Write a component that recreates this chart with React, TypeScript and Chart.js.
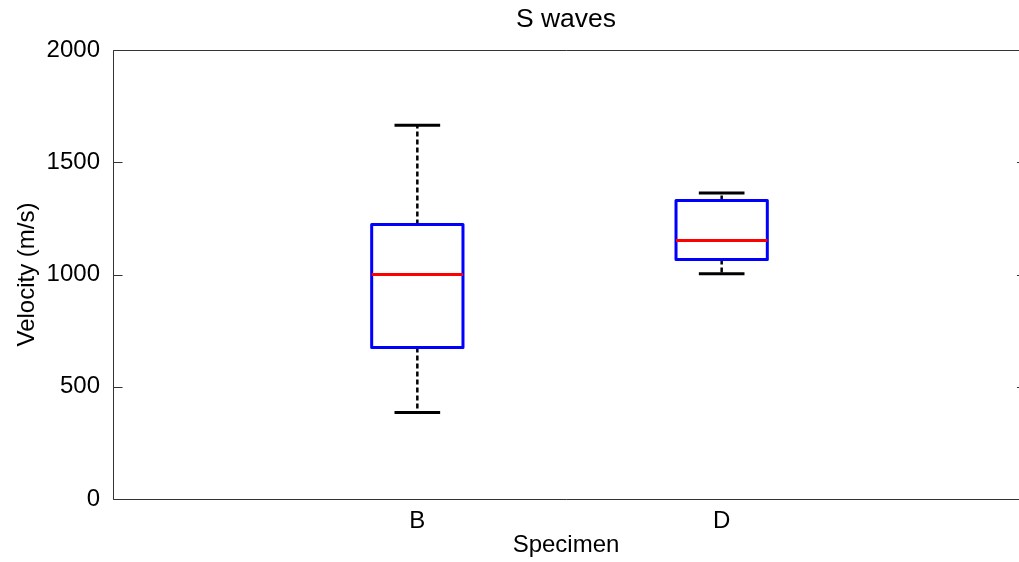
import React, { useEffect, useRef } from "react";
import { Chart, registerables } from "chart.js";

Chart.register(...registerables);

const specimens = ["B", "D"];
const positions = [1, 2];
const upperWhisker = [1665, 1363];
const q3 = [1223, 1330];
const median = [1000, 1152];
const q1 = [675, 1067];
const lowerWhisker = [385, 1003];
const yTicks = [0, 500, 1000, 1500, 2000];

const BOX_HALF = 0.15;
const CAP_HALF = 0.075;
const X_MIN = 0;
const X_FULL = 3;
const X_VISIBLE_MAX = 2.977;

type P = { x: number; y: number | null };

const gap = (x: number): P => ({ x, y: null });

function buildBoxes(): P[] {
  const pts: P[] = [];
  positions.forEach((p, i) => {
    pts.push({ x: p - BOX_HALF, y: q1[i] });
    pts.push({ x: p + BOX_HALF, y: q1[i] });
    pts.push({ x: p + BOX_HALF, y: q3[i] });
    pts.push({ x: p - BOX_HALF, y: q3[i] });
    pts.push({ x: p - BOX_HALF, y: q1[i] });
    pts.push(gap(p));
  });
  return pts;
}
function buildMedians(): P[] {
  const pts: P[] = [];
  positions.forEach((p, i) => {
    pts.push({ x: p - BOX_HALF, y: median[i] });
    pts.push({ x: p + BOX_HALF, y: median[i] });
    pts.push(gap(p));
  });
  return pts;
}
function buildWhiskers(): P[] {
  const pts: P[] = [];
  positions.forEach((p, i) => {
    pts.push({ x: p, y: q3[i] });
    pts.push({ x: p, y: upperWhisker[i] });
    pts.push(gap(p));
    pts.push({ x: p, y: q1[i] });
    pts.push({ x: p, y: lowerWhisker[i] });
    pts.push(gap(p));
  });
  return pts;
}
function buildCaps(): P[] {
  const pts: P[] = [];
  positions.forEach((p, i) => {
    pts.push({ x: p - CAP_HALF, y: upperWhisker[i] });
    pts.push({ x: p + CAP_HALF, y: upperWhisker[i] });
    pts.push(gap(p));
    pts.push({ x: p - CAP_HALF, y: lowerWhisker[i] });
    pts.push({ x: p + CAP_HALF, y: lowerWhisker[i] });
    pts.push(gap(p));
  });
  return pts;
}

const FONT = "'Liberation Sans', Arial, Helvetica, sans-serif";
const AXIS_COLOR = "#333333";

const framePlugin = {
  id: "matlabFrame",
  afterDatasetsDraw(chart: any) {
    const { ctx, chartArea, scales } = chart;
    const x = scales.x;
    const y = scales.y;
    const left = chartArea.left;
    const rightFull = x.getPixelForValue(X_FULL);
    ctx.save();
    ctx.strokeStyle = AXIS_COLOR;
    ctx.lineWidth = 1;
    ctx.beginPath();
    const top = Math.round(chartArea.top) + 0.5;
    const bottom = Math.round(chartArea.bottom) + 0.5;
    const l = Math.round(left) + 0.5;
    ctx.moveTo(l, top);
    ctx.lineTo(rightFull, top);
    ctx.moveTo(l, bottom);
    ctx.lineTo(rightFull, bottom);
    ctx.moveTo(l, top);
    ctx.lineTo(l, bottom);
    ctx.moveTo(rightFull, top);
    ctx.lineTo(rightFull, bottom);
    yTicks.forEach((v) => {
      const py = Math.round(y.getPixelForValue(v)) + 0.5;
      ctx.moveTo(l, py);
      ctx.lineTo(l + 9, py);
      ctx.moveTo(rightFull, py);
      ctx.lineTo(rightFull - 9, py);
    });
    ctx.stroke();
    ctx.restore();
  },
};

export default function App() {
  const ref = useRef<HTMLCanvasElement | null>(null);
  useEffect(() => {
    if (!ref.current) return;
    const common = { pointRadius: 0, pointHoverRadius: 0, spanGaps: false, fill: false };
    const chart = new Chart(ref.current, {
      type: "line",
      data: {
        datasets: [
          {
            ...common,
            label: "median",
            data: buildMedians() as any,
            borderColor: "#FF0000",
            borderWidth: 3,
            order: 0,
          },
          {
            ...common,
            label: "box",
            data: buildBoxes() as any,
            borderColor: "#0000FF",
            borderWidth: 3,
            borderJoinStyle: "round",
            order: 1,
          },
          {
            ...common,
            label: "whisker",
            data: buildWhiskers() as any,
            borderColor: "#000000",
            borderWidth: 2.5,
            borderDash: [5, 3],
            order: 2,
          },
          {
            ...common,
            label: "cap",
            data: buildCaps() as any,
            borderColor: "#000000",
            borderWidth: 3,
            order: 2,
          },
        ],
      },
      options: {
        animation: false,
        responsive: false,
        devicePixelRatio: 1,
        layout: { padding: 0 },
        plugins: {
          legend: { display: false },
          tooltip: { enabled: false },
          title: {
            display: true,
            text: "S waves",
            fullSize: false,
            color: "#000000",
            font: { family: FONT, size: 26.5, weight: "normal" },
            padding: { top: 4, bottom: 14.2 },
          },
        },
        scales: {
          x: {
            type: "linear",
            min: X_MIN,
            max: X_VISIBLE_MAX,
            grid: { display: false, drawTicks: false },
            border: { display: false },
            afterBuildTicks: (scale: any) => {
              scale.ticks = positions.map((p) => ({ value: p }));
            },
            afterFit: (scale: any) => {
              scale.height = 63;
            },
            ticks: {
              color: "#000000",
              font: { family: FONT, size: 24 },
              padding: 8,
              maxRotation: 0,
              autoSkip: false,
              callback: (v: any) => {
                const i = positions.indexOf(Number(v));
                return i >= 0 ? specimens[i] : "";
              },
            },
            title: {
              display: true,
              text: "Specimen",
              color: "#000000",
              font: { family: FONT, size: 24 },
              padding: { top: 0, bottom: 2 },
            },
          },
          y: {
            min: 0,
            max: 2000,
            grid: { display: false, drawTicks: false },
            border: { display: false },
            afterBuildTicks: (scale: any) => {
              scale.ticks = yTicks.map((v) => ({ value: v }));
            },
            afterFit: (scale: any) => {
              scale.width = 113;
            },
            ticks: {
              color: "#000000",
              font: { family: FONT, size: 24 },
              padding: 13,
              callback: (v: any) => String(v),
            },
            title: {
              display: true,
              text: "Velocity (m/s)",
              color: "#000000",
              font: { family: FONT, size: 24 },
              padding: { top: 13, bottom: 0 },
            },
          },
        },
      },
      plugins: [framePlugin],
    });
    return () => chart.destroy();
  }, []);
  return (
    <div style={{ position: "fixed", left: 0, top: 0, width: 1019, height: 562, background: "#ffffff" }}>
      <canvas ref={ref} width={1019} height={562} style={{ display: "block" }} />
    </div>
  );
}
